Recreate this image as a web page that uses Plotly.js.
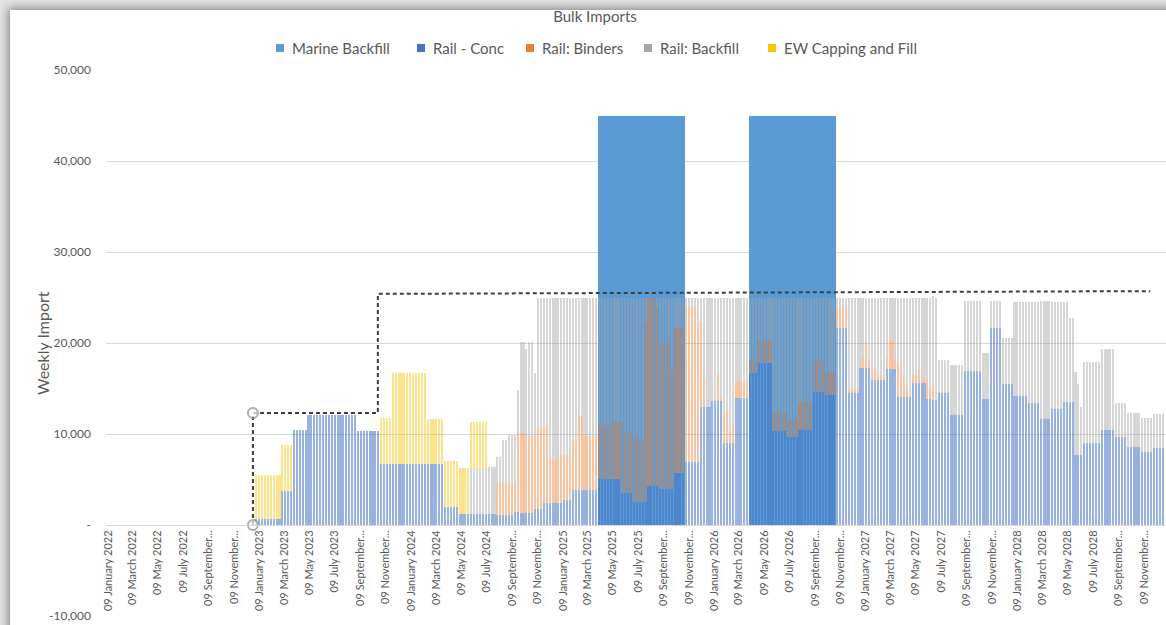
<!DOCTYPE html>
<html>
<head>
<meta charset="utf-8">
<script src="https://cdn.plot.ly/plotly-3.0.1.min.js"></script>
<style>
  html, body { margin: 0; padding: 0; background: #ffffff; }
  #wrap { position: relative; width: 1166px; height: 625px; overflow: hidden; background: #e4e4e4; }
  #card { position: absolute; left: 10px; top: 10px; width: 1220px; height: 700px; background: #ffffff;
          box-shadow: 0 0 9px 2px rgba(0, 0, 0, 0.42); }
  #chart { position: absolute; left: 0; top: 0; width: 1166px; height: 625px; }
</style>
</head>
<body>
<div id="wrap">
  <div id="card"></div>
  <div id="chart"></div>
</div>
<script>
// Weekly bulk import schedule, one bar per week starting Sunday 1 January 2023.
// Each series is stored as runs of [number of weeks, tonnes per week].
const firstWeek = '2023-01-01';

const marineBackfillRuns = [[118, 0], [30, 45000], [22, 0], [30, 45000], [113, 0]];

const railConcRuns = [
  [9, 700], [4, 3700], [5, 10400], [17, 12100], [8, 10300], [22, 6700], [5, 2000], [13, 1200],
  [6, 1100], [2, 1400], [5, 1300], [3, 1800], [7, 2400], [3, 2800], [9, 3800],
  [8, 5100], [4, 3500], [5, 2500], [4, 4300], [5, 4000], [4, 5700],
  [5, 6900], [4, 13000], [4, 13600], [4, 9000], [5, 14000],
  [3, 16700], [5, 17800], [5, 10300], [4, 9700], [5, 10400], [4, 14600], [4, 14300],
  [4, 21600], [4, 14500], [4, 17300], [5, 15900], [4, 17100], [5, 14100], [5, 15600],
  [2, 13900], [2, 13700], [4, 14500], [5, 12100], [6, 16900], [3, 13800], [4, 21600],
  [4, 15500], [5, 14200], [4, 13400], [4, 11600], [4, 12800], [4, 13500], [3, 7700],
  [6, 9000], [5, 10400], [4, 9700], [5, 8600], [4, 8000], [4, 8500]
];

const railBindersRuns = [
  [83, 0], [6, 3500], [1, 3200], [1, 8700], [2, 8800], [3, 8500], [1, 8000], [2, 9000],
  [2, 8400], [3, 4700], [2, 5300], [3, 4900], [2, 5500], [2, 8300], [5, 6000],
  [5, 5900], [3, 6200], [1, 7800], [3, 6700], [2, 7200], [2, 6700], [1, 19700], [3, 20700],
  [1, 19700], [4, 16000], [1, 13000], [4, 15900],
  [4, 17100], [1, 15400], [1, 9300], [1, 3000], [4, 0], [1, 3100], [1, 400], [2, 3400],
  [1, 1000], [1, 2000], [5, 1700],
  [3, 1400], [5, 2500], [5, 2100], [4, 1900], [5, 3100], [4, 3500], [4, 2500],
  [4, 2400], [4, 500], [1, 0], [1, 1200], [1, 3000], [1, 700], [2, 1200], [3, 600],
  [1, 1400], [2, 3200], [1, 900], [1, 3700], [1, 2900], [1, 1900], [1, 900], [1, 0],
  [2, 900], [1, 1500], [2, 400], [1, 2100], [1, 1100], [1, 1800], [79, 0]
];

const railBackfillRuns = [
  [74, 0], [6, 5100], [3, 5200], [2, 2900], [2, 4700], [2, 5300], [1, 5300], [1, 4700],
  [2, 10000], [1, 9500], [2, 10300], [1, 6900], [2, 14200], [2, 14200], [3, 17900],
  [5, 17300], [2, 15700], [2, 12900], [5, 15200],
  [5, 14000], [4, 13700], [3, 14800], [2, 15300], [2, 15800], [1, 2800], [3, 0], [1, 1000],
  [4, 5000], [1, 8000], [4, 3400],
  [4, 1000], [2, 2700], [1, 9000], [2, 12000], [2, 11400], [1, 8300], [1, 11000], [2, 12600],
  [1, 15000], [1, 14000], [5, 9300],
  [3, 6900], [5, 4700], [5, 12600], [4, 13400], [5, 11500], [4, 6900], [4, 8200],
  [4, 1000], [4, 10000], [1, 7700], [1, 6500], [1, 4700], [1, 7000], [2, 7900], [3, 8500],
  [1, 6500], [2, 4700], [1, 7000], [1, 7200], [1, 8000], [1, 9000], [1, 10000], [1, 10900],
  [2, 8500], [1, 7900], [3, 9000], [1, 10000], [1, 9700], [1, 11300],
  [4, 3600], [5, 5500], [6, 7700], [3, 5100], [4, 3000], [4, 5100], [5, 10300], [4, 11100],
  [4, 13000], [4, 11700], [2, 11000], [2, 9200], [1, 9100], [1, 7800], [1, 5300],
  [6, 8900], [5, 8900], [9, 3700], [4, 3800], [4, 3700]
];

const ewCappingRuns = [
  [9, 4800], [4, 5100], [30, 0], [4, 5100], [12, 10000], [6, 4900], [5, 5000], [4, 5100],
  [6, 5000], [233, 0]
];

// Import capacity envelope (dashed), with its start marked by open circles.
const capacityDates  = ['2022-12-24', '2022-12-24', '2023-10-21', '2023-10-21', '2028-11-24'];
const capacityValues = [0, 12300, 12300, 25400, 25700];

// Axis ticks.
const xTickDates = [];
['2022', '2023', '2024', '2025', '2026', '2027', '2028'].forEach(function (y) {
  ['01', '03', '05', '07', '09', '11'].forEach(function (m) { xTickDates.push(y + '-' + m + '-09'); });
});
const xTickLabels = [
  '09 January 2022', '09 March 2022', '09 May 2022', '09 July 2022', '09 September...', '09 November...',
  '09 January 2023', '09 March 2023', '09 May 2023', '09 July 2023', '09 September...', '09 November...',
  '09 January 2024', '09 March 2024', '09 May 2024', '09 July 2024', '09 September...', '09 November...',
  '09 January 2025', '09 March 2025', '09 May 2025', '09 July 2025', '09 September...', '09 November...',
  '09 January 2026', '09 March 2026', '09 May 2026', '09 July 2026', '09 September...', '09 November...',
  '09 January 2027', '09 March 2027', '09 May 2027', '09 July 2027', '09 September...', '09 November...',
  '09 January 2028', '09 March 2028', '09 May 2028', '09 July 2028', '09 September...', '09 November...'
];
const yTickValues = [-10000, 0, 10000, 20000, 30000, 40000, 50000];
const yTickLabels = ['-10,000', '-', '10,000', '20,000', '30,000', '40,000', '50,000'];

const seriesNames  = ['Marine Backfill', 'Rail - Conc', 'Rail: Binders', 'Rail: Backfill', 'EW Capping and Fill'];
const seriesColors = ['#5B9BD5', '#4472C4', '#ED7D31', '#A5A5A5', '#FFC000'];

// ---------------------------------------------------------------------------
function expand(runs) {
  const out = [];
  runs.forEach(function (r) { for (let i = 0; i < r[0]; i++) out.push(r[1]); });
  return out;
}
const marine   = expand(marineBackfillRuns);
const conc     = expand(railConcRuns);
const binders  = expand(railBindersRuns);
const backfill = expand(railBackfillRuns);
const ew       = expand(ewCappingRuns);

const DAY = 86400000;
const weeks = [];
const t0 = Date.parse(firstWeek + 'T00:00:00Z');
for (let i = 0; i < conc.length; i++) {
  weeks.push(new Date(t0 + i * 7 * DAY).toISOString().slice(0, 10));
}

// Stack the rail and earthworks series on top of each other; marine sits behind them.
const base1 = conc.slice();
const base2 = conc.map(function (v, i) { return v + binders[i]; });
const base3 = base2.map(function (v, i) { return v + backfill[i]; });
const zeros = conc.map(function () { return 0; });

const barW = 0.72 * 7 * DAY;
function barTrace(vals, base, color, alpha, width) {
  return {
    type: 'bar', x: weeks, y: vals, base: base, width: width,
    marker: { color: color, opacity: alpha, line: { width: 0 } },
    hoverinfo: 'skip', showlegend: false
  };
}

const traces = [
  barTrace(marine, zeros, seriesColors[0], 1, 7 * DAY),
  barTrace(conc, zeros, seriesColors[1], 0.55, barW),
  barTrace(binders, base1, seriesColors[2], 0.45, barW),
  barTrace(backfill, base2, seriesColors[3], 0.45, barW),
  barTrace(ew, base3, seriesColors[4], 0.45, barW),
  {
    type: 'scatter', mode: 'lines+markers', x: capacityDates, y: capacityValues,
    line: { color: '#3F3F3F', width: 2, dash: '4px,3px' },
    marker: { size: [10, 10, 0, 0, 0], color: '#ffffff', line: { color: '#8C8C8C', width: 2 } },
    hoverinfo: 'skip', showlegend: false, cliponaxis: false
  }
];

// Pixel helpers for the hand-placed legend and axis title.
const W = 1166, H = 625, ML = 106, MR = 0, MT = 70, MB = 9;
const PW = W - ML - MR, PH = H - MT - MB;
function fx(px) { return (px - ML) / PW; }
function fy(py) { return (H - MB - py) / PH; }

const legendSwatchX = [276, 417, 526, 644, 768];
const legendTextX   = [290, 431, 540, 658, 782];
const legendY = 48;

const shapes = [];
const annotations = [];
seriesNames.forEach(function (name, i) {
  shapes.push({
    type: 'rect', xref: 'paper', yref: 'paper',
    x0: fx(legendSwatchX[i]), x1: fx(legendSwatchX[i] + 8),
    y0: fy(legendY + 4), y1: fy(legendY - 4),
    fillcolor: seriesColors[i], line: { width: 0 }
  });
  annotations.push({
    xref: 'paper', yref: 'paper', x: fx(legendTextX[i]), y: fy(legendY),
    xanchor: 'left', yanchor: 'middle', showarrow: false, text: name,
    font: { size: 15, color: '#595959' }
  });
});
annotations.push({
  xref: 'paper', yref: 'paper', x: fx(42), y: fy(343), textangle: -90,
  xanchor: 'center', yanchor: 'middle', showarrow: false, text: 'Weekly Import',
  font: { size: 16, color: '#595959' }
});

const layout = {
  width: W, height: H,
  margin: { l: ML, r: MR, t: MT, b: MB, pad: 0 },
  paper_bgcolor: 'rgba(0,0,0,0)', plot_bgcolor: 'rgba(0,0,0,0)',
  font: { family: 'Lato, "Open Sans", sans-serif', color: '#595959' },
  barmode: 'overlay', bargap: 0,
  showlegend: false, hovermode: false,
  title: {
    text: 'Bulk Imports', font: { size: 15, color: '#595959' },
    xref: 'container', yref: 'container', x: 595 / W, y: 1 - 17 / H,
    xanchor: 'center', yanchor: 'middle'
  },
  xaxis: {
    type: 'date', range: ['2022-01-04', '2029-01-01'],
    anchor: 'free', position: 10000 / 60000,
    showgrid: false, zeroline: false, showline: true, linecolor: '#D9D9D9', linewidth: 1,
    tickmode: 'array', tickvals: xTickDates, ticktext: xTickLabels,
    tickangle: -90, ticks: '', tickfont: { size: 11, color: '#595959' },
    fixedrange: true
  },
  yaxis: {
    range: [-10000, 50000], tickmode: 'array', tickvals: yTickValues, ticktext: yTickLabels,
    showgrid: true, gridcolor: '#D9D9D9', gridwidth: 1, zeroline: false, showline: false,
    ticks: '', tickfont: { size: 12, color: '#595959' }, ticklabelstandoff: 14,
    fixedrange: true
  },
  shapes: shapes,
  annotations: annotations
};

Plotly.newPlot('chart', traces, layout, { displayModeBar: false, staticPlot: true });
</script>
</body>
</html>
